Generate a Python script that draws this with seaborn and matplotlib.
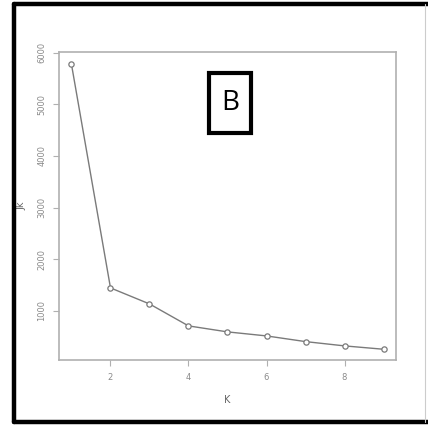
"""Elbow plot: Jk against K, boxed panel B."""

import matplotlib

matplotlib.use("Agg")
import matplotlib.pyplot as plt
import pandas as pd
import seaborn as sns
from matplotlib.lines import Line2D
from matplotlib.patches import Rectangle

k_values = [1, 2, 3, 4, 5, 6, 7, 8, 9]
jk_values = [5770, 1445, 1135, 710, 594, 516, 406, 323, 258]
x_ticks = [2, 4, 6, 8]
y_ticks = [1000, 2000, 3000, 4000, 5000, 6000]

GREY_LINE = "#7a7a7a"
GREY_AXIS = "#b0b0b0"
GREY_TEXT = "#8a8a8a"


def main():
    sns.set_style("white")
    plt.rcParams["font.family"] = ["DejaVu Sans"]

    df = pd.DataFrame({"K": k_values, "Jk": jk_values})

    fig = plt.figure(figsize=(4.28, 4.25), dpi=100)
    ax = fig.add_axes([59 / 428, 65 / 425, 337 / 428, 308 / 425])

    sns.lineplot(data=df, x="K", y="Jk", ax=ax, color=GREY_LINE, linewidth=1.0,
                 marker="o", markersize=3.8, markerfacecolor="white",
                 markeredgecolor=GREY_LINE, markeredgewidth=0.9)

    ax.set_xlim(0.68, 9.32)
    ax.set_ylim(50, 6010)
    ax.set_xticks(x_ticks)
    ax.set_yticks(y_ticks)
    ax.set_xticklabels([str(t) for t in x_ticks], fontsize=6, color=GREY_TEXT)
    ax.set_yticklabels([str(t) for t in y_ticks], fontsize=6, color=GREY_TEXT,
                       rotation=90, va="center")
    ax.tick_params(axis="both", direction="out", length=4, width=0.8,
                   color=GREY_AXIS, pad=5, left=True, bottom=True)
    for spine in ax.spines.values():
        spine.set_color(GREY_AXIS)
        spine.set_linewidth(1.2)

    ax.set_xlabel("K", fontsize=7, color="#666666", labelpad=10)
    ax.set_ylabel("Jk", fontsize=7, color="#666666", labelpad=8)

    # panel letter in a heavy box
    fig.patches.append(Rectangle((209 / 428, 1 - 133 / 425), 42 / 428, 60 / 425,
                                 transform=fig.transFigure, fill=False,
                                 edgecolor="black", linewidth=3))
    fig.text(230 / 428, 1 - 103 / 425, "B", fontsize=20, ha="center", va="center",
             color="black", family=["Open Sans", "DejaVu Sans"])

    # outer frame (left, top, bottom in black, right edge faint)
    lw = 3.2
    fig.lines.append(Line2D([14 / 428, 14 / 428], [1 - 3.5 / 425, 1 - 422 / 425],
                            transform=fig.transFigure, color="black", linewidth=lw))
    fig.lines.append(Line2D([14 / 428, 1.0], [1 - 3.5 / 425, 1 - 3.5 / 425],
                            transform=fig.transFigure, color="black", linewidth=lw))
    fig.lines.append(Line2D([14 / 428, 1.0], [1 - 422 / 425, 1 - 422 / 425],
                            transform=fig.transFigure, color="black", linewidth=lw))
    fig.lines.append(Line2D([425 / 428, 425 / 428], [1 - 3.5 / 425, 1 - 422 / 425],
                            transform=fig.transFigure, color="#cccccc", linewidth=0.8))

    fig.savefig("out.png", dpi=100)
    plt.close(fig)


if __name__ == "__main__":
    main()
